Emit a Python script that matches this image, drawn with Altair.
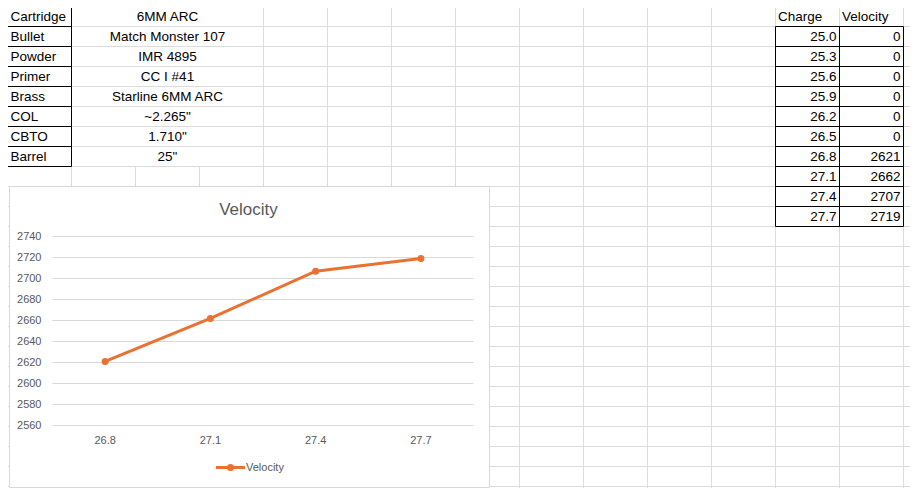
import altair as alt
import pandas as pd

# ---------------- data ----------------
param_names = ["Cartridge", "Bullet", "Powder", "Primer", "Brass", "COL", "CBTO", "Barrel"]
param_values = ["6MM ARC", "Match Monster 107", "IMR 4895", "CC I #41",
                "Starline 6MM ARC", "~2.265\"", "1.710\"", "25\""]
header_labels = ["Charge", "Velocity"]
charges = [25.0, 25.3, 25.6, 25.9, 26.2, 26.5, 26.8, 27.1, 27.4, 27.7]
velocities = [0, 0, 0, 0, 0, 0, 2621, 2662, 2707, 2719]
velocity_ticks = [2560, 2580, 2600, 2620, 2640, 2660, 2680, 2700, 2720, 2740]
series_name = "Velocity"
chart_title = "Velocity"

# ---------------- sheet layout ----------------
COLS = list("ABCDEFGHIJKLMNO")
ROWS = list(range(1, 27))
W, H = 902, 480
GRID = "#dcdcdc"
CHART_GREY = "#d9d9d9"
LABEL = "#595959"
ORANGE = "#E97132"
CELL_FONT = "Liberation Sans"
CELL_SIZE = 13.5

col_scale = alt.Scale(type="band", domain=COLS, range=[-0.5, 959.5], paddingInner=0, paddingOuter=0)
row_scale = alt.Scale(type="band", domain=ROWS, range=[-1.5, 518.5], paddingInner=0, paddingOuter=0)


def X(field, bp):
    return alt.X(f"{field}:O", scale=col_scale, bandPosition=bp, axis=None)


def Y(field, bp):
    return alt.Y(f"{field}:O", scale=row_scale, bandPosition=bp, axis=None)


# sheet gridlines
hgrid = alt.Chart(pd.DataFrame({"row": ROWS[1:]})).mark_rule(color=GRID, strokeWidth=1).encode(
    y=Y("row", 0))
merged_cols = ["C", "D"]
vdf = pd.DataFrame({"col": COLS[1:],
                    "start": [9 if c in merged_cols else 1 for c in COLS[1:]]})
vgrid = alt.Chart(vdf).mark_rule(color=GRID, strokeWidth=1).encode(
    x=X("col", 0), y=Y("start", 0), y2=alt.value(H + 40))

# table borders
t1 = pd.DataFrame({"col": ["A"] * len(param_names), "row": list(range(1, 1 + len(param_names)))})
t2 = pd.DataFrame({"col": ["M"] * len(charges) + ["N"] * len(charges),
                   "row": list(range(2, 2 + len(charges))) * 2})
borders = alt.Chart(pd.concat([t1, t2])).mark_rect(
    stroke="black", strokeWidth=1, fillOpacity=0).encode(x=X("col", 0.5), y=Y("row", 0.5))

# cell texts
names_df = pd.DataFrame({"col": "A", "row": list(range(1, 1 + len(param_names))), "t": param_names})
vals_df = pd.DataFrame({"col": "C", "row": list(range(1, 1 + len(param_values))), "t": param_values})
head_df = pd.DataFrame({"col": ["M", "N"], "row": [1, 1], "t": header_labels})
chg_df = pd.DataFrame({"col": "M", "row": list(range(2, 2 + len(charges))), "v": charges})
vel_df = pd.DataFrame({"col": "N", "row": list(range(2, 2 + len(velocities))), "v": velocities})

txt_kw = dict(font=CELL_FONT, fontSize=CELL_SIZE, color="black", baseline="middle")
names_t = alt.Chart(names_df).mark_text(align="left", dx=3, **txt_kw).encode(
    x=X("col", 0), y=Y("row", 0.5), text="t:N")
vals_t = alt.Chart(vals_df).mark_text(align="center", **txt_kw).encode(
    x=X("col", 0.5), y=Y("row", 0.5), text="t:N")
head_t = alt.Chart(head_df).mark_text(align="left", dx=2.5, **txt_kw).encode(
    x=X("col", 0), y=Y("row", 0.5), text="t:N")
chg_t = alt.Chart(chg_df).mark_text(align="right", dx=-3, **txt_kw).encode(
    x=X("col", 1), y=Y("row", 0.5), text=alt.Text("v:Q", format=".1f"))
vel_t = alt.Chart(vel_df).mark_text(align="right", dx=-3, **txt_kw).encode(
    x=X("col", 1), y=Y("row", 0.5), text=alt.Text("v:Q", format="d"))

# ---------------- embedded chart ----------------
one = pd.DataFrame({"name": [series_name], "title": [chart_title]})
frame = alt.Chart(one).mark_rect(fill="white", stroke=CHART_GREY, strokeWidth=1).encode(
    x=alt.value(1.5), x2=alt.value(481.5), y=alt.value(178.5), y2=alt.value(479.5))

cdf = pd.DataFrame({"charge": [f"{c:.1f}" for c in charges], "velocity": velocities})
cdf = cdf[cdf["velocity"] > 0]
cx = alt.Scale(type="point", domain=list(cdf["charge"]), range=[44.5, 465.5], padding=0.5)
cy = alt.Scale(domain=[min(velocity_ticks), max(velocity_ticks)], range=[417.5, 228.5],
               zero=False, nice=False)

tick_df = pd.DataFrame({"tick": velocity_ticks})
cgrid = alt.Chart(tick_df).mark_rule(color=CHART_GREY, strokeWidth=1).encode(
    y=alt.Y("tick:Q", scale=cy, axis=None), x=alt.value(44.5), x2=alt.value(465.5))
ylab = alt.Chart(tick_df).mark_text(align="right", baseline="middle", font=CELL_FONT,
                                    fontSize=11, color=LABEL).encode(
    y=alt.Y("tick:Q", scale=cy, axis=None), x=alt.value(33.5), text="tick:Q")
xlab = alt.Chart(cdf).mark_text(align="center", baseline="middle", font=CELL_FONT,
                                fontSize=11, color=LABEL).encode(
    x=alt.X("charge:O", scale=cx, axis=None), y=alt.value(432.5), text="charge:N")

line = alt.Chart(cdf).mark_line(color=ORANGE, strokeWidth=3).encode(
    x=alt.X("charge:O", scale=cx, axis=None), y=alt.Y("velocity:Q", scale=cy, axis=None))
pts = alt.Chart(cdf).mark_point(filled=True, color=ORANGE, size=49, opacity=1, shape="circle").encode(
    x=alt.X("charge:O", scale=cx, axis=None), y=alt.Y("velocity:Q", scale=cy, axis=None))

title_t = alt.Chart(one).mark_text(align="center", baseline="middle", font=CELL_FONT,
                                   fontSize=17, color=LABEL).encode(
    x=alt.value(240.5), y=alt.value(201.5), text="title:N")

leg_line = alt.Chart(one).mark_rule(color=ORANGE, strokeWidth=3).encode(
    x=alt.value(208), x2=alt.value(237), y=alt.value(459.5))
leg_pt = alt.Chart(one).mark_point(filled=True, color=ORANGE, size=49, opacity=1, shape="circle").encode(
    x=alt.value(222.5), y=alt.value(459.5))
leg_t = alt.Chart(one).mark_text(align="left", baseline="middle", font=CELL_FONT,
                                 fontSize=11, color=LABEL).encode(
    x=alt.value(238), y=alt.value(459.5), text="name:N")

chart = alt.layer(
    hgrid, vgrid, borders, names_t, vals_t, head_t, chg_t, vel_t,
    frame, cgrid, ylab, xlab, line, pts, title_t, leg_line, leg_pt, leg_t,
).resolve_scale(x="independent", y="independent").properties(
    width=W, height=H, padding=0, autosize=alt.AutoSizeParams(type="none"),
    background="white",
).configure_view(stroke=None)

chart.save("out.html", embed_options={"renderer": "svg", "actions": False})
